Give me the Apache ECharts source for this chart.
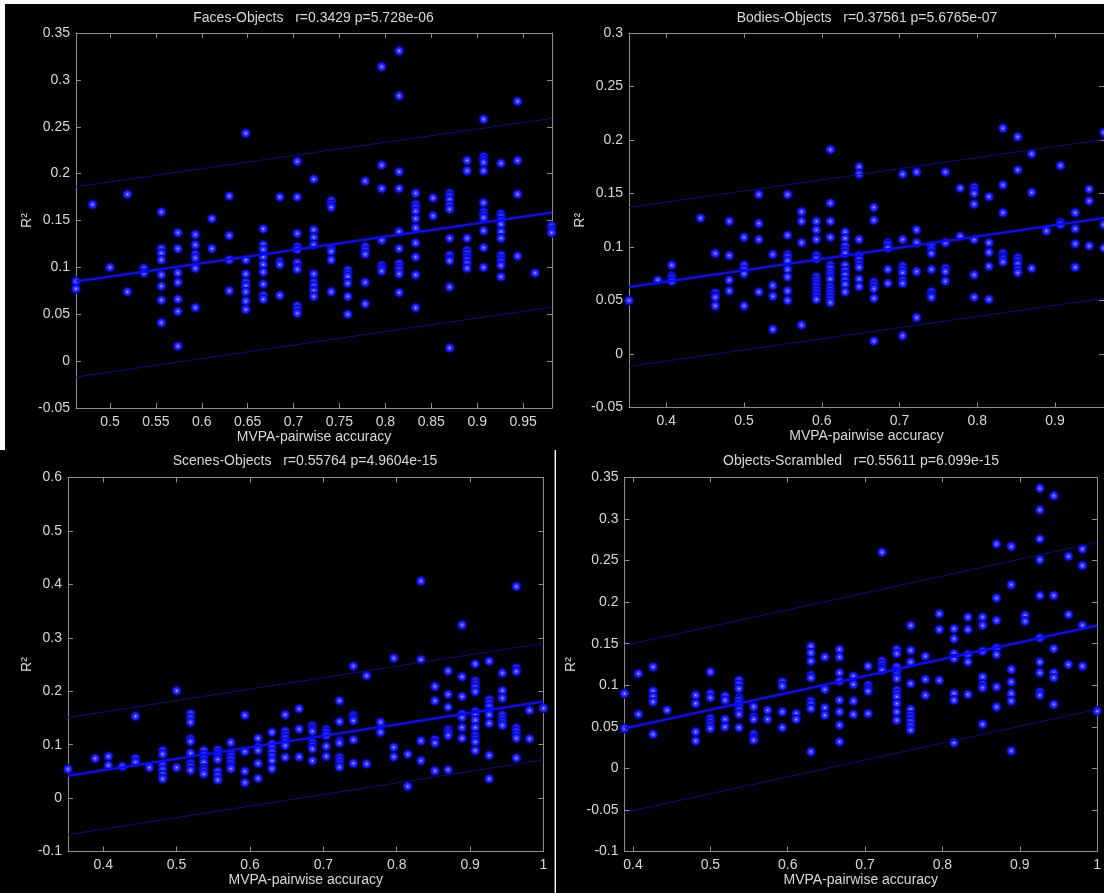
<!DOCTYPE html>
<html>
<head>
<meta charset="utf-8">
<script src="https://cdn.jsdelivr.net/npm/echarts@6/dist/echarts.min.js"></script>
<style>
html,body{margin:0;padding:0;background:#000;}
#chart{width:1104px;height:893px;}
</style>
</head>
<body>
<div id="chart"></div>
<script>
// ---------------- DATA ----------------
const titles = [
  'Faces-Objects   r=0.3429 p=5.728e-06',
  'Bodies-Objects   r=0.37561 p=5.6765e-07',
  'Scenes-Objects   r=0.55764 p=4.9604e-15',
  'Objects-Scrambled   r=0.55611 p=6.099e-15'
];
const xAxisName = 'MVPA-pairwise accuracy';
const yAxisName = 'R\u00B2';

// Panel 1: Faces-Objects
const facesX = [0.463,0.481,0.500,0.519,0.537,0.556,0.574,0.593,0.611,0.630,0.648,0.667,0.685,0.704,0.722,0.741,0.759,0.778,0.796,0.815,0.833,0.852,0.870,0.889,0.907,0.926,0.944,0.963,0.981];
const facesY = [
  [0.085,0.077],
  [0.167],
  [0.100],
  [0.178,0.074],
  [0.099,0.094],
  [0.159,0.120,0.115,0.108,0.092,0.080,0.065,0.041],
  [0.137,0.120,0.094,0.084,0.066,0.053,0.016],
  [0.135,0.124,0.114,0.110,0.099,0.057],
  [0.152,0.120],
  [0.176,0.134,0.108,0.075],
  [0.243,0.108,0.093,0.084,0.080,0.074,0.064,0.055],
  [0.141,0.124,0.119,0.111,0.103,0.095,0.082,0.070,0.066],
  [0.175,0.106,0.103,0.070],
  [0.213,0.175,0.136,0.122,0.119,0.105,0.100,0.098,0.059,0.055,0.051],
  [0.194,0.140,0.132,0.124,0.093,0.084,0.080,0.075,0.069],
  [0.171,0.167,0.164,0.120,0.117,0.108,0.074],
  [0.097,0.093,0.090,0.083,0.069,0.050],
  [0.192,0.122,0.118,0.114,0.084,0.061],
  [0.314,0.209,0.184,0.129,0.102,0.099,0.096],
  [0.331,0.283,0.202,0.184,0.138,0.120,0.104,0.100,0.097,0.093,0.073],
  [0.179,0.167,0.164,0.160,0.152,0.142,0.126,0.111,0.092,0.057],
  [0.174,0.155],
  [0.179,0.176,0.172,0.166,0.162,0.131,0.113,0.109,0.107,0.079,0.014],
  [0.214,0.203,0.131,0.118,0.115,0.111,0.108,0.104,0.099],
  [0.258,0.218,0.215,0.212,0.203,0.169,0.159,0.156,0.153,0.139,0.121,0.100],
  [0.211,0.157,0.154,0.150,0.146,0.138,0.131,0.113,0.109,0.106,0.102,0.090],
  [0.277,0.214,0.178,0.112],
  [0.094],
  [0.144,0.140,0.137]
];
const facesFit = [[0.463,0.085],[0.9815,0.1585]];
const facesUpper = [[0.463,0.186],[0.9815,0.259]];
const facesLower = [[0.463,-0.017],[0.9815,0.0577]];

// Panel 2: Bodies-Objects
const bodiesX = [0.352,0.389,0.407,0.444,0.463,0.481,0.500,0.519,0.537,0.556,0.574,0.593,0.611,0.630,0.648,0.667,0.685,0.704,0.722,0.741,0.759,0.778,0.796,0.815,0.833,0.852,0.870,0.889,0.907,0.926,0.944,0.963];
const bodiesY = [
  [0.050],
  [0.069],
  [0.083,0.073,0.071,0.068],
  [0.127],
  [0.094,0.057,0.054,0.053,0.045],
  [0.124,0.092,0.069,0.059],
  [0.109,0.083,0.079,0.075,0.045],
  [0.149,0.122,0.107,0.058],
  [0.093,0.064,0.054,0.023],
  [0.149,0.111,0.093,0.091,0.087,0.079,0.072,0.059,0.050],
  [0.133,0.124,0.104,0.027],
  [0.124,0.116,0.107,0.092,0.089,0.072,0.069,0.066,0.063,0.060,0.057,0.054,0.051],
  [0.191,0.141,0.124,0.109,0.083,0.080,0.076,0.073,0.070,0.063,0.060,0.057,0.054,0.051,0.048],
  [0.114,0.108,0.101,0.097,0.094,0.083,0.078,0.074,0.069,0.065,0.058],
  [0.175,0.168,0.107,0.092,0.088,0.084,0.081,0.070,0.063],
  [0.137,0.125,0.067,0.064,0.061,0.052,0.012],
  [0.104,0.102,0.099,0.079,0.066],
  [0.168,0.107,0.082,0.079,0.076,0.069,0.066,0.017],
  [0.170,0.116,0.104,0.077,0.034],
  [0.101,0.097,0.094,0.079,0.058,0.055,0.053],
  [0.170,0.104,0.080,0.077,0.068],
  [0.155,0.110],
  [0.156,0.153,0.150,0.140,0.107,0.074,0.053],
  [0.147,0.104,0.095,0.082,0.051],
  [0.211,0.158,0.132,0.094,0.091,0.089,0.086],
  [0.203,0.172,0.090,0.087,0.084,0.079,0.076],
  [0.187,0.151,0.080],
  [0.115],
  [0.176,0.123,0.121],
  [0.132,0.117,0.103,0.081],
  [0.154,0.143,0.101],
  [0.207,0.121,0.099]
];
const bodiesFit = [[0.352,0.0626],[0.963,0.1272]];
const bodiesUpper = [[0.352,0.137],[0.963,0.2005]];
const bodiesLower = [[0.352,-0.0116],[0.963,0.052]];

// Panel 3: Scenes-Objects
const scenesX = [0.352,0.389,0.407,0.426,0.444,0.463,0.481,0.500,0.519,0.537,0.556,0.574,0.593,0.611,0.630,0.648,0.667,0.685,0.704,0.722,0.741,0.759,0.778,0.796,0.815,0.833,0.852,0.870,0.889,0.907,0.926,0.944,0.963,0.981,1.000];
const scenesY = [
  [0.054],
  [0.074],
  [0.078,0.061],
  [0.059],
  [0.153,0.074,0.067],
  [0.057],
  [0.089,0.082,0.061,0.053,0.044,0.036],
  [0.201,0.057],
  [0.158,0.150,0.142,0.111,0.106,0.084,0.065,0.059,0.052],
  [0.089,0.081,0.073,0.067,0.056,0.051,0.045],
  [0.090,0.084,0.078,0.072,0.050,0.042,0.034],
  [0.104,0.084,0.078,0.072,0.065,0.059,0.055],
  [0.155,0.087,0.050,0.029],
  [0.112,0.095,0.089,0.065,0.037],
  [0.123,0.101,0.094,0.086,0.078,0.070,0.055],
  [0.156,0.125,0.118,0.112,0.105,0.098,0.076],
  [0.167,0.129,0.077],
  [0.135,0.130,0.125,0.104,0.098,0.092,0.070],
  [0.128,0.123,0.117,0.097,0.078],
  [0.182,0.143,0.107,0.103,0.076,0.070,0.064,0.058],
  [0.247,0.155,0.150,0.145,0.109,0.065],
  [0.229,0.064],
  [0.142,0.123],
  [0.262,0.095,0.077],
  [0.082,0.022],
  [0.406,0.259,0.107,0.070],
  [0.209,0.182,0.109,0.103,0.051],
  [0.238,0.194,0.170,0.128,0.123,0.117,0.053],
  [0.324,0.227,0.190,0.157,0.151,0.132,0.112],
  [0.251,0.219,0.213,0.207,0.199,0.162,0.156,0.146,0.132,0.117,0.111,0.105,0.089],
  [0.256,0.184,0.178,0.171,0.162,0.156,0.140,0.080,0.036],
  [0.234,0.201,0.187,0.155,0.148,0.142,0.136],
  [0.396,0.243,0.237,0.131,0.125,0.118,0.112,0.075],
  [0.164,0.111],
  [0.168]
];
const scenesFit = [[0.352,0.0417],[1.0,0.1806]];
const scenesUpper = [[0.352,0.1507],[1.0,0.2897]];
const scenesLower = [[0.352,-0.0686],[1.0,0.0716]];

// Panel 4: Objects-Scrambled
const scrX = [0.389,0.407,0.426,0.444,0.481,0.500,0.519,0.537,0.556,0.574,0.593,0.611,0.630,0.648,0.667,0.685,0.704,0.722,0.741,0.759,0.778,0.796,0.815,0.833,0.852,0.870,0.889,0.907,0.926,0.944,0.963,0.981,1.000];
const scrY = [
  [0.090,0.048],
  [0.114,0.065],
  [0.122,0.093,0.086,0.080,0.041],
  [0.070],
  [0.088,0.078,0.044,0.033],
  [0.116,0.090,0.085,0.060,0.056,0.052,0.048],
  [0.087,0.082,0.059,0.050],
  [0.106,0.101,0.096,0.085,0.082,0.078,0.074,0.070,0.065,0.049],
  [0.074,0.062,0.059,0.041,0.037,0.034],
  [0.070,0.059],
  [0.104,0.099,0.068,0.049],
  [0.066,0.059],
  [0.147,0.139,0.129,0.112,0.109,0.081,0.077,0.072,0.020],
  [0.134,0.095,0.073,0.064],
  [0.143,0.134,0.115,0.105,0.082,0.068,0.052,0.032],
  [0.111,0.101,0.081,0.065],
  [0.123,0.100,0.096,0.093,0.066],
  [0.260,0.129,0.125,0.121,0.118],
  [0.143,0.138,0.122,0.117,0.112,0.108,0.094,0.090,0.086,0.078,0.068,0.058],
  [0.172,0.142,0.128,0.102,0.071,0.064,0.060,0.056,0.051,0.046],
  [0.135,0.107,0.088],
  [0.186,0.167,0.106],
  [0.168,0.156,0.138,0.132,0.090,0.082,0.031],
  [0.182,0.167,0.137,0.128,0.089],
  [0.182,0.172,0.141,0.110,0.101,0.097,0.053],
  [0.270,0.205,0.178,0.145,0.137,0.098,0.074],
  [0.267,0.221,0.119,0.104,0.090,0.081,0.021],
  [0.184,0.177],
  [0.337,0.311,0.276,0.251,0.208,0.157,0.128,0.115,0.092,0.088],
  [0.328,0.208,0.144,0.115,0.109,0.077],
  [0.255,0.185,0.125],
  [0.264,0.244,0.172,0.123],
  [0.069]
];
const scrFit = [[0.389,0.048],[1.0,0.172]];
const scrUpper = [[0.389,0.148],[1.0,0.272]];
const scrLower = [[0.389,-0.053],[1.0,0.071]];

// Axis ranges and tick labels
const xRanges = [[0.463,0.9815],[0.352,0.963],[0.352,1.0],[0.389,1.0]];
const yRanges = [[-0.05,0.35],[-0.05,0.3],[-0.1,0.6],[-0.1,0.35]];
const xTicks = [
  [0.5,0.55,0.6,0.65,0.7,0.75,0.8,0.85,0.9,0.95],
  [0.4,0.5,0.6,0.7,0.8,0.9],
  [0.4,0.5,0.6,0.7,0.8,0.9,1],
  [0.4,0.5,0.6,0.7,0.8,0.9,1]
];
const yTicks = [
  [-0.05,0,0.05,0.1,0.15,0.2,0.25,0.3,0.35],
  [-0.05,0,0.05,0.1,0.15,0.2,0.25,0.3],
  [-0.1,0,0.1,0.2,0.3,0.4,0.5,0.6],
  [-0.1,-0.05,0,0.05,0.1,0.15,0.2,0.25,0.3,0.35]
];

// ---------------- LAYOUT / STYLE ----------------
const grids = [
  {left:76, top:33, width:476, height:375},
  {left:629, top:33, width:476.6, height:374.5},
  {left:68, top:477.5, width:475.5, height:374},
  {left:624.5, top:477.5, width:476, height:374}
];
const yNameGaps = [41, 40, 34, 46];
const titlePos = [[313.5,18],[867,18],[305,461.5],[861,461]];
const TEXT = '#d8d8d8';
const AXIS = '#8e8e8e';
const FONT = '"Liberation Sans", Arial, Helvetica, sans-serif';
const FS = 14;

const panels = [
  {x:facesX, y:facesY, fit:facesFit, up:facesUpper, lo:facesLower},
  {x:bodiesX, y:bodiesY, fit:bodiesFit, up:bodiesUpper, lo:bodiesLower},
  {x:scenesX, y:scenesY, fit:scenesFit, up:scenesUpper, lo:scenesLower},
  {x:scrX, y:scrY, fit:scrFit, up:scrUpper, lo:scrLower}
];

const ballColor = {
  type:'radial', x:0.5, y:0.5, r:0.5,
  colorStops:[
    {offset:0, color:'#d8dcff'},
    {offset:0.22, color:'#4a4cff'},
    {offset:0.7, color:'#1414f4'},
    {offset:1, color:'#0000b0'}
  ]
};

const xAxes = [], yAxes = [], series = [];
panels.forEach((p, i) => {
  const tickStyle = {lineStyle:{color:AXIS, width:1}};
  xAxes.push({
    gridIndex:i, type:'value', position:'bottom',
    min:xRanges[i][0], max:xRanges[i][1],
    axisLine:{show:true, onZero:false, lineStyle:{color:AXIS, width:1}},
    axisTick:Object.assign({show:true, inside:true, length:5, customValues:xTicks[i]}, tickStyle),
    axisLabel:{show:true, customValues:xTicks[i], color:TEXT, fontSize:FS, fontFamily:FONT, margin:7},
    splitLine:{show:false},
    name:xAxisName, nameLocation:'middle', nameGap:22,
    nameTextStyle:{color:TEXT, fontSize:FS, fontFamily:FONT}
  });
  xAxes.push({
    gridIndex:i, type:'value', position:'top',
    min:xRanges[i][0], max:xRanges[i][1],
    axisLine:{show:true, onZero:false, lineStyle:{color:AXIS, width:1}},
    axisTick:Object.assign({show:true, inside:true, length:5, customValues:xTicks[i]}, tickStyle),
    axisLabel:{show:false},
    splitLine:{show:false}
  });
  yAxes.push({
    gridIndex:i, type:'value', position:'left',
    min:yRanges[i][0], max:yRanges[i][1],
    axisLine:{show:true, onZero:false, lineStyle:{color:AXIS, width:1}},
    axisTick:Object.assign({show:true, inside:true, length:5, customValues:yTicks[i]}, tickStyle),
    axisLabel:{show:true, customValues:yTicks[i], color:TEXT, fontSize:FS, fontFamily:FONT, margin:6},
    splitLine:{show:false},
    name:yAxisName, nameLocation:'middle', nameGap:yNameGaps[i],
    nameTextStyle:{color:TEXT, fontSize:FS, fontFamily:FONT}
  });
  yAxes.push({
    gridIndex:i, type:'value', position:'right',
    min:yRanges[i][0], max:yRanges[i][1],
    axisLine:{show:true, onZero:false, lineStyle:{color:AXIS, width:1}},
    axisTick:Object.assign({show:true, inside:true, length:5, customValues:yTicks[i]}, tickStyle),
    axisLabel:{show:false},
    splitLine:{show:false}
  });

  const pts = [];
  p.x.forEach((xv, c) => { p.y[c].forEach(yv => pts.push([xv, yv])); });

  series.push({
    type:'scatter', xAxisIndex:2*i, yAxisIndex:2*i, data:pts,
    symbol:'circle', symbolSize:9.5, z:2,
    itemStyle:{color:ballColor, borderColor:'#00008a', borderWidth:0.5, opacity:1},
    emphasis:{disabled:true}, silent:true
  });
  const lineCommon = {type:'line', xAxisIndex:2*i, yAxisIndex:2*i, showSymbol:false, symbol:'none', silent:true, z:3};
  series.push(Object.assign({}, lineCommon, {data:p.up, lineStyle:{color:'#0a0a8c', width:1}}));
  series.push(Object.assign({}, lineCommon, {data:p.lo, lineStyle:{color:'#0a0a8c', width:1}}));
  series.push(Object.assign({}, lineCommon, {data:p.fit, lineStyle:{color:'#0a0aff', width:2.5}}));
});

const graphics = [
  {type:'rect', shape:{x:0, y:0, width:1104, height:4}, style:{fill:'#ffffff'}, z:100},
  {type:'rect', shape:{x:0, y:0, width:5, height:450}, style:{fill:'#ffffff'}, z:100},
  {type:'rect', shape:{x:554.6, y:450, width:1.4, height:443}, style:{fill:'#ffffff'}, z:100}
];
titles.forEach((t, i) => {
  graphics.push({
    type:'text', x:titlePos[i][0], y:titlePos[i][1], z:100,
    style:{text:t, fill:TEXT, font:FS + 'px ' + FONT, textAlign:'center', textVerticalAlign:'middle'}
  });
});

const chart = echarts.init(document.getElementById('chart'), null, {renderer:'canvas'});
chart.setOption({
  backgroundColor:'#000000',
  animation:false,
  grid:grids.map(g => Object.assign({show:false, containLabel:false}, g)),
  xAxis:xAxes,
  yAxis:yAxes,
  series:series,
  graphic:graphics
});
</script>
</body>
</html>
